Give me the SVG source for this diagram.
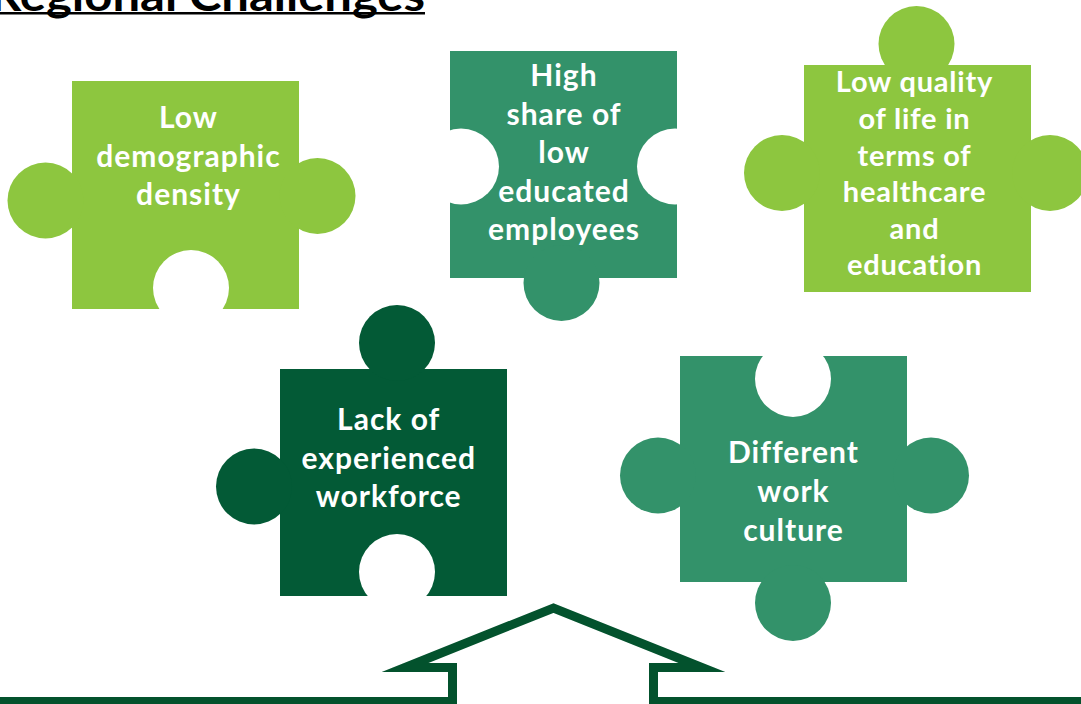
<svg xmlns="http://www.w3.org/2000/svg" width="1081" height="704" viewBox="0 0 1081 704">
<style>
.light{fill:#8DC63F}
.mid{fill:#33926A}
.dark{fill:#035A36}
.hole{fill:#FFFFFF}
.lbl{font-family:Lato,"Liberation Sans",sans-serif;font-weight:700;font-size:30px;fill:#FFFFFF;text-anchor:middle;letter-spacing:1px}
.lbl3{font-size:29px;letter-spacing:0.8px}
.title{font-family:Lato,"Liberation Sans",sans-serif;font-weight:700;font-size:44px;fill:#000000}
</style>
<rect width="1081" height="704" fill="#FFFFFF"/>
<g id="title">
<text class="title" x="-10" y="10.5" textLength="435" lengthAdjust="spacingAndGlyphs">Regional Challenges</text>
<rect x="-10" y="12" width="435" height="2.5" fill="#000000"/>
</g>
<g id="piece-density">
<rect class="light" x="72" y="81" width="227" height="228"/>
<circle class="light" cx="45.5" cy="200.5" r="38"/>
<circle class="light" cx="317.5" cy="196" r="38"/>
<circle class="hole" cx="191" cy="288" r="38"/>
<text class="lbl"><tspan x="188.5" y="128">Low</tspan><tspan x="188.5" y="166.5">demographic</tspan><tspan x="188.5" y="205">density</tspan></text>
</g>
<g id="piece-education">
<rect class="mid" x="450" y="51" width="227" height="227"/>
<circle class="mid" cx="561.5" cy="283" r="38"/>
<circle class="hole" cx="461" cy="166.5" r="38"/>
<circle class="hole" cx="675" cy="166.5" r="38"/>
<text class="lbl"><tspan x="564" y="86">High</tspan><tspan x="564" y="124.5">share of</tspan><tspan x="564" y="163">low</tspan><tspan x="564" y="201.5">educated</tspan><tspan x="564" y="240">employees</tspan></text>
</g>
<g id="piece-quality">
<rect class="light" x="804" y="65" width="227" height="227"/>
<circle class="light" cx="916.5" cy="44" r="38"/>
<circle class="light" cx="782" cy="173" r="38"/>
<circle class="light" cx="1050" cy="173" r="38"/>
<text class="lbl lbl3"><tspan x="914.5" y="92">Low quality</tspan><tspan x="914.5" y="128.5">of life in</tspan><tspan x="914.5" y="165.5">terms of</tspan><tspan x="914.5" y="202">healthcare</tspan><tspan x="914.5" y="238.5">and</tspan><tspan x="914.5" y="275">education</tspan></text>
</g>
<g id="piece-workforce">
<rect class="dark" x="280" y="369" width="227" height="227"/>
<circle class="dark" cx="397" cy="343" r="38"/>
<circle class="dark" cx="254" cy="486.5" r="38"/>
<circle class="hole" cx="397" cy="572" r="38"/>
<text class="lbl"><tspan x="388.7" y="430">Lack of</tspan><tspan x="388.7" y="468.5">experienced</tspan><tspan x="388.7" y="507">workforce</tspan></text>
</g>
<g id="piece-culture">
<rect class="mid" x="680" y="356" width="227" height="226"/>
<circle class="mid" cx="658" cy="475.5" r="38"/>
<circle class="mid" cx="931" cy="475.5" r="38"/>
<circle class="mid" cx="793" cy="603" r="38"/>
<circle class="hole" cx="793" cy="379" r="38"/>
<text class="lbl"><tspan x="793.5" y="463">Different</tspan><tspan x="793.5" y="502">work</tspan><tspan x="793.5" y="541">culture</tspan></text>
</g>
<g id="connectors">
<path d="M -10 701.5 H 452.5 V 667.5 H 405 L 553.5 608 L 702 667.5 H 653.5 V 701.5 H 1095" fill="none" stroke="#03522D" stroke-width="9" stroke-linejoin="miter" stroke-miterlimit="10"/>
</g>
</svg>
